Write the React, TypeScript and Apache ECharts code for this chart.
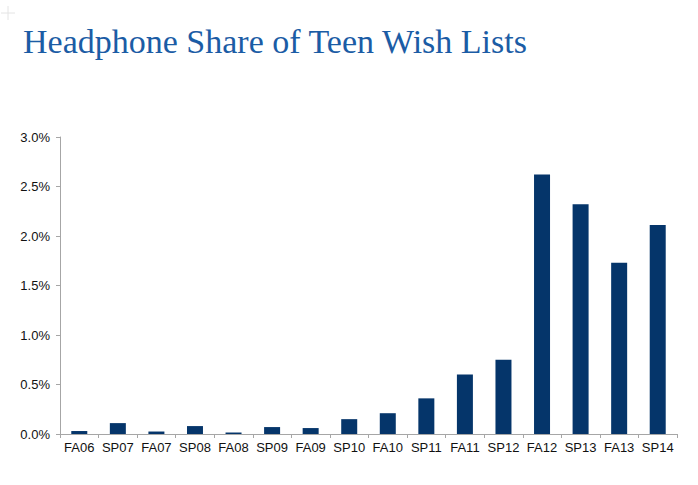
import React, { useEffect, useRef } from "react";
import * as echarts from "echarts";

const categories = ["FA06","SP07","FA07","SP08","FA08","SP09","FA09","SP10","FA10","SP11","FA11","SP12","FA12","SP13","FA13","SP14"];
const shareValues = [0.03,0.11,0.025,0.08,0.015,0.07,0.06,0.15,0.21,0.36,0.60,0.75,2.62,2.32,1.73,2.11];
const titleText = "Headphone Share of Teen Wish Lists";

export default function App() {
  const ref = useRef<HTMLDivElement>(null);
  useEffect(() => {
    document.body.style.margin = "0";
    const chart = echarts.init(ref.current!, null, { renderer: "svg" });
    chart.setOption({
      animation: false,
      backgroundColor: "#ffffff",
      title: {
        text: titleText,
        left: 18,
        top: 19,
        textStyle: {
          fontFamily: "Liberation Serif",
          fontWeight: "normal",
          fontSize: 34,
          color: "#1b5ca5",
        },
      },
      graphic: [
        { type: "line", shape: { x1: 1, y1: 13, x2: 15, y2: 13 }, style: { stroke: "#e4e4e4", lineWidth: 1 } },
        { type: "line", shape: { x1: 8, y1: 6, x2: 8, y2: 20 }, style: { stroke: "#e4e4e4", lineWidth: 1 } },
      ],
      grid: { left: 60, right: 21, top: 137, bottom: 51, containLabel: false },
      xAxis: {
        type: "category",
        data: categories,
        axisLine: { lineStyle: { color: "#a6a6a6", width: 1 } },
        axisTick: { show: true, length: 4, alignWithLabel: false, lineStyle: { color: "#a6a6a6" } },
        axisLabel: { color: "#111", fontFamily: "Liberation Sans", fontSize: 13, margin: 7, interval: 0 },
      },
      yAxis: {
        type: "value",
        min: 0,
        max: 3,
        interval: 0.5,
        axisLine: { show: true, lineStyle: { color: "#a6a6a6", width: 1 } },
        axisTick: { show: true, length: 4, lineStyle: { color: "#a6a6a6" } },
        splitLine: { show: false },
        axisLabel: {
          color: "#111",
          fontFamily: "Liberation Sans",
          fontSize: 13,
          margin: 10,
          formatter: (v: number) => v.toFixed(1) + "%",
        },
      },
      series: [
        {
          type: "bar",
          data: shareValues,
          barWidth: 16,
          itemStyle: { color: "#05356a" },
        },
      ],
    });
    return () => chart.dispose();
  }, []);
  return <div ref={ref} style={{ position: "absolute", left: 0, top: 0, width: 698, height: 485 }} />;
}
